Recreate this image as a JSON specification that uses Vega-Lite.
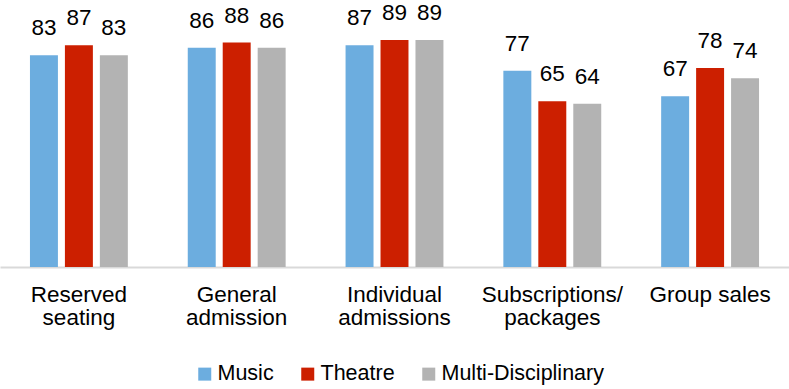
{
  "$schema": "https://vega.github.io/schema/vega-lite/v6.json",
  "width": 789,
  "height": 255,
  "autosize": {"type": "none"},
  "padding": {"left": 0, "top": 12, "right": 0, "bottom": 122},
  "config": {
    "view": {"stroke": null},
    "font": "Liberation Sans"
  },
  "data": {
    "values": [
      {"category": "Reserved seating", "series": "Music", "value": 83},
      {"category": "Reserved seating", "series": "Theatre", "value": 87},
      {"category": "Reserved seating", "series": "Multi-Disciplinary", "value": 83},
      {"category": "General admission", "series": "Music", "value": 86},
      {"category": "General admission", "series": "Theatre", "value": 88},
      {"category": "General admission", "series": "Multi-Disciplinary", "value": 86},
      {"category": "Individual admissions", "series": "Music", "value": 87},
      {"category": "Individual admissions", "series": "Theatre", "value": 89},
      {"category": "Individual admissions", "series": "Multi-Disciplinary", "value": 89},
      {"category": "Subscriptions/ packages", "series": "Music", "value": 77},
      {"category": "Subscriptions/ packages", "series": "Theatre", "value": 65},
      {"category": "Subscriptions/ packages", "series": "Multi-Disciplinary", "value": 64},
      {"category": "Group sales", "series": "Music", "value": 67},
      {"category": "Group sales", "series": "Theatre", "value": 78},
      {"category": "Group sales", "series": "Multi-Disciplinary", "value": 74}
    ]
  },
  "encoding": {
    "x": {
      "field": "category",
      "type": "nominal",
      "sort": null,
      "scale": {"paddingInner": 0, "paddingOuter": 0},
      "axis": {
        "title": null,
        "labelAngle": 0,
        "labelFontSize": 22.5,
        "labelColor": "#000000",
        "labelPadding": 16,
        "labelLineHeight": 23,
        "labelExpr": "datum.label == 'Group sales' ? datum.label : split(datum.label, ' ')",
        "ticks": false,
        "domainColor": "#d9d9d9",
        "domainWidth": 2,
        "labelLimit": 300
      }
    },
    "xOffset": {
      "field": "series",
      "type": "nominal",
      "sort": ["Music", "Theatre", "Multi-Disciplinary"],
      "scale": {"paddingInner": 0.2, "paddingOuter": 0.857}
    },
    "y": {
      "field": "value",
      "type": "quantitative",
      "scale": {"domain": [0, 100], "nice": false},
      "axis": null
    }
  },
  "layer": [
    {
      "mark": {"type": "bar"},
      "encoding": {
        "color": {
          "field": "series",
          "type": "nominal",
          "sort": ["Music", "Theatre", "Multi-Disciplinary"],
          "scale": {
            "domain": ["Music", "Theatre", "Multi-Disciplinary"],
            "range": ["#6caddf", "#cc1f00", "#b3b3b3"]
          },
          "legend": {
            "title": null,
            "orient": "none",
            "direction": "horizontal",
            "legendX": 194,
            "legendY": 351,
            "symbolType": "square",
            "symbolSize": 169,
            "symbolStrokeWidth": 0,
            "labelFontSize": 21.5,
            "labelColor": "#000000",
            "labelOffset": 2,
            "columnPadding": 23,
            "labelLimit": 300
          }
        }
      }
    },
    {
      "mark": {"type": "text", "fontSize": 22.5, "color": "#000000", "baseline": "alphabetic", "dy": -20},
      "encoding": {
        "text": {"field": "value", "type": "quantitative"}
      }
    }
  ]
}
